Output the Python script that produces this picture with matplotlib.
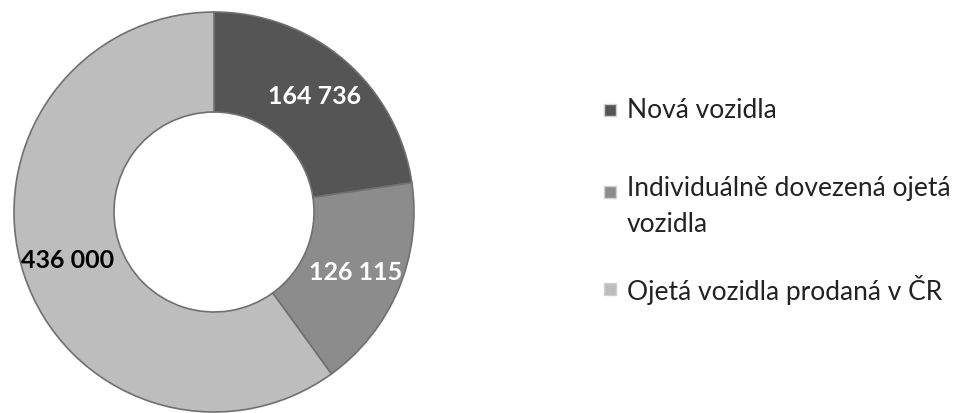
import matplotlib.pyplot as plt
from matplotlib.patches import Rectangle

# Daten
kategorie = ['Nová vozidla', 'Individuálně dovezená ojetá\nvozidla', 'Ojetá vozidla prodaná v ČR']
hodnoty = [164736, 126115, 436000]
barvy = ['#555555', '#8c8c8c', '#bdbdbd']
barvy_popisku = ['white', 'white', 'black']

plt.rcParams['font.family'] = ['Lato', 'DejaVu Sans']

fig = plt.figure(figsize=(9.63, 4.14), dpi=100)
W, H = 963, 414

# Prstencovy graf
ax = fig.add_axes([14 / W, 1 / H, 400 / W, 400 / H])
fmt = lambda v: f'{v:,}'.replace(',', ' ')
klin, _, popisky = ax.pie(hodnoty, colors=barvy, startangle=90, counterclock=False,
                          radius=1.0, autopct=lambda p: fmt(round(p * sum(hodnoty) / 100)),
                          pctdistance=0.77,
                          wedgeprops=dict(width=0.5, edgecolor='#707070', linewidth=1.2))
for t, c in zip(popisky, barvy_popisku):
    t.set_color(c)
    t.set_fontsize(18)
    t.set_fontweight('bold')
ax.set_xlim(-1, 1)
ax.set_ylim(-1, 1)
ax.axis('off')

# Legenda
legend_y = [111, 193, 290]
for lab, c, y in zip(kategorie, barvy, legend_y):
    fig.patches.append(Rectangle((604 / W, 1 - (y + 6) / H), 12 / W, 12 / H,
                                 transform=fig.transFigure, facecolor=c,
                                 edgecolor='#d0d0d0', linewidth=1))
    if '\n' in lab:
        fig.text(627 / W, 1 - (y - 17) / H, lab, fontsize=19, va='top', ha='left',
                 color='#222222', linespacing=1.55)
    else:
        fig.text(627 / W, 1 - y / H, lab, fontsize=19, va='center', ha='left',
                 color='#222222')

fig.savefig('out.png', dpi=100)
